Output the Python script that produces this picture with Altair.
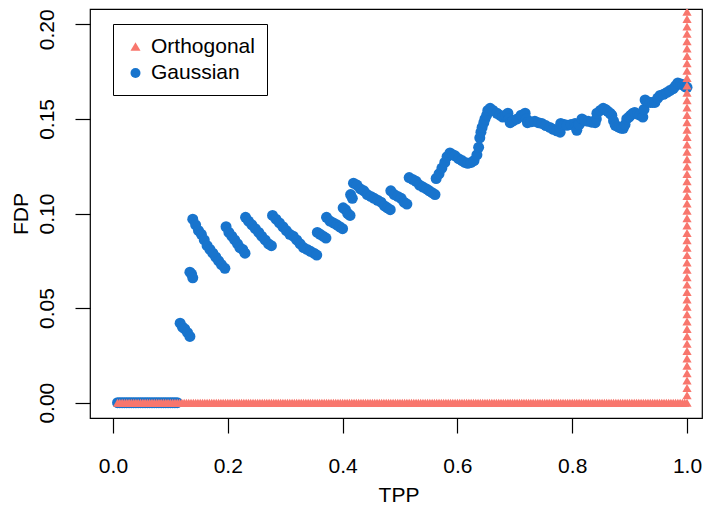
import altair as alt
import pandas as pd

FONT = "Liberation Sans"

x_ticks = [0.0, 0.2, 0.4, 0.6, 0.8, 1.0]
y_ticks = [0.0, 0.05, 0.10, 0.15, 0.20]
series_names = ["Orthogonal", "Gaussian"]
series_colors = ["#F8766D", "#1874CD"]
series_shapes = ["triangle-up", "circle"]

# Orthogonal design: FDP = 0 along the whole TPP range ...
orth_flat_tpp = [
    0.008, 0.012, 0.016, 0.020, 0.024, 0.028, 0.032, 0.036, 0.040, 0.044,
    0.048, 0.052, 0.056, 0.060, 0.064, 0.068, 0.072, 0.076, 0.080, 0.084,
    0.088, 0.092, 0.096, 0.100, 0.104, 0.108, 0.112, 0.116, 0.120, 0.124,
    0.128, 0.132, 0.136, 0.140, 0.144, 0.148, 0.152, 0.156, 0.160, 0.164,
    0.168, 0.172, 0.176, 0.180, 0.184, 0.188, 0.192, 0.196, 0.200, 0.204,
    0.208, 0.212, 0.216, 0.220, 0.224, 0.228, 0.232, 0.236, 0.240, 0.244,
    0.248, 0.252, 0.256, 0.260, 0.264, 0.268, 0.272, 0.276, 0.280, 0.284,
    0.288, 0.292, 0.296, 0.300, 0.304, 0.308, 0.312, 0.316, 0.320, 0.324,
    0.328, 0.332, 0.336, 0.340, 0.344, 0.348, 0.352, 0.356, 0.360, 0.364,
    0.368, 0.372, 0.376, 0.380, 0.384, 0.388, 0.392, 0.396, 0.400, 0.404,
    0.408, 0.412, 0.416, 0.420, 0.424, 0.428, 0.432, 0.436, 0.440, 0.444,
    0.448, 0.452, 0.456, 0.460, 0.464, 0.468, 0.472, 0.476, 0.480, 0.484,
    0.488, 0.492, 0.496, 0.500, 0.504, 0.508, 0.512, 0.516, 0.520, 0.524,
    0.528, 0.532, 0.536, 0.540, 0.544, 0.548, 0.552, 0.556, 0.560, 0.564,
    0.568, 0.572, 0.576, 0.580, 0.584, 0.588, 0.592, 0.596, 0.600, 0.604,
    0.608, 0.612, 0.616, 0.620, 0.624, 0.628, 0.632, 0.636, 0.640, 0.644,
    0.648, 0.652, 0.656, 0.660, 0.664, 0.668, 0.672, 0.676, 0.680, 0.684,
    0.688, 0.692, 0.696, 0.700, 0.704, 0.708, 0.712, 0.716, 0.720, 0.724,
    0.728, 0.732, 0.736, 0.740, 0.744, 0.748, 0.752, 0.756, 0.760, 0.764,
    0.768, 0.772, 0.776, 0.780, 0.784, 0.788, 0.792, 0.796, 0.800, 0.804,
    0.808, 0.812, 0.816, 0.820, 0.824, 0.828, 0.832, 0.836, 0.840, 0.844,
    0.848, 0.852, 0.856, 0.860, 0.864, 0.868, 0.872, 0.876, 0.880, 0.884,
    0.888, 0.892, 0.896, 0.900, 0.904, 0.908, 0.912, 0.916, 0.920, 0.924,
    0.928, 0.932, 0.936, 0.940, 0.944, 0.948, 0.952, 0.956, 0.960, 0.964,
    0.968, 0.972, 0.976, 0.980, 0.984, 0.988, 0.992, 0.996, 1.000,
]
# ... then FDP rising at TPP = 1
orth_full_tpp = 1.0
orth_full_fdp = [
    0.0039, 0.0078, 0.0117, 0.0156, 0.0195, 0.0234, 0.0273, 0.0312, 0.0351,
    0.0390, 0.0429, 0.0468, 0.0507, 0.0546, 0.0585, 0.0624, 0.0663, 0.0702,
    0.0741, 0.0780, 0.0819, 0.0858, 0.0897, 0.0936, 0.0975, 0.1014, 0.1053,
    0.1092, 0.1131, 0.1170, 0.1209, 0.1248, 0.1287, 0.1326, 0.1365, 0.1404,
    0.1443, 0.1482, 0.1521, 0.1560, 0.1599, 0.1638, 0.1677, 0.1716, 0.1755,
    0.1794, 0.1833, 0.1872, 0.1911, 0.1950, 0.1989, 0.2028, 0.2067,
]

# Gaussian design: (TPP, FDP) path
gauss_zero_tpp = [
    0.008, 0.012, 0.016, 0.020, 0.024, 0.028, 0.032, 0.036, 0.040, 0.044,
    0.048, 0.052, 0.056, 0.060, 0.064, 0.068, 0.072, 0.076, 0.080, 0.084,
    0.088, 0.092, 0.096, 0.100, 0.104, 0.108, 0.112,
]
gauss_path = [
    (0.117, 0.042), (0.121, 0.040), (0.125, 0.039), (0.130, 0.037), (0.134, 0.035),
    (0.134, 0.069), (0.137, 0.068), (0.139, 0.066),
    (0.139, 0.097), (0.144, 0.094), (0.149, 0.091), (0.154, 0.089), (0.159, 0.086),
    (0.164, 0.083), (0.169, 0.081), (0.174, 0.079), (0.179, 0.077), (0.184, 0.075),
    (0.189, 0.073), (0.195, 0.071),
    (0.197, 0.093), (0.202, 0.090), (0.207, 0.088), (0.212, 0.086), (0.217, 0.084),
    (0.221, 0.082), (0.226, 0.081), (0.230, 0.079),
    (0.231, 0.098), (0.236, 0.096), (0.242, 0.094), (0.248, 0.092), (0.254, 0.090),
    (0.259, 0.088), (0.265, 0.086), (0.271, 0.084), (0.276, 0.083),
    (0.278, 0.099), (0.284, 0.097), (0.290, 0.095), (0.296, 0.093), (0.302, 0.091),
    (0.308, 0.089), (0.314, 0.088), (0.320, 0.086), (0.326, 0.084), (0.332, 0.082),
    (0.338, 0.081), (0.344, 0.080), (0.350, 0.079), (0.355, 0.078),
    (0.356, 0.090), (0.361, 0.089), (0.366, 0.088), (0.371, 0.087),
    (0.372, 0.098), (0.378, 0.096), (0.384, 0.095), (0.390, 0.094), (0.395, 0.093),
    (0.400, 0.092),
    (0.401, 0.103), (0.405, 0.102), (0.409, 0.100), (0.413, 0.099),
    (0.414, 0.110), (0.417, 0.108),
    (0.419, 0.116), (0.425, 0.115), (0.431, 0.113), (0.437, 0.112), (0.443, 0.110),
    (0.449, 0.109), (0.455, 0.108), (0.461, 0.107), (0.467, 0.106), (0.473, 0.104),
    (0.478, 0.103), (0.483, 0.102),
    (0.484, 0.112), (0.490, 0.110), (0.496, 0.109), (0.502, 0.108), (0.507, 0.106),
    (0.512, 0.105),
    (0.516, 0.119), (0.522, 0.118), (0.528, 0.117), (0.534, 0.115), (0.540, 0.114),
    (0.546, 0.113), (0.551, 0.112), (0.556, 0.111), (0.561, 0.110),
    (0.563, 0.1185), (0.568, 0.121), (0.573, 0.124), (0.578, 0.127), (0.582, 0.130),
    (0.587, 0.132), (0.592, 0.131), (0.596, 0.1305), (0.602, 0.129), (0.608, 0.128),
    (0.613, 0.127), (0.618, 0.1265), (0.624, 0.127), (0.629, 0.128), (0.634, 0.131),
    (0.637, 0.135), (0.639, 0.140), (0.641, 0.143), (0.643, 0.1455), (0.646, 0.148),
    (0.648, 0.150), (0.651, 0.152), (0.653, 0.1545), (0.657, 0.1556),
    (0.662, 0.1545), (0.669, 0.153), (0.674, 0.152), (0.679, 0.151), (0.684, 0.152),
    (0.688, 0.153), (0.690, 0.150), (0.692, 0.148), (0.697, 0.149), (0.704, 0.150),
    (0.711, 0.152), (0.718, 0.153), (0.720, 0.150), (0.722, 0.148), (0.728, 0.1485),
    (0.735, 0.1487), (0.741, 0.148), (0.747, 0.1476), (0.754, 0.1465), (0.761, 0.1455),
    (0.767, 0.1445), (0.773, 0.1437), (0.779, 0.143), (0.779, 0.1455), (0.780, 0.1476),
    (0.786, 0.147), (0.791, 0.1466), (0.798, 0.147), (0.805, 0.1476), (0.807, 0.146),
    (0.808, 0.144), (0.812, 0.147), (0.817, 0.150), (0.822, 0.149), (0.828, 0.1487),
    (0.834, 0.1483), (0.840, 0.148), (0.842, 0.150), (0.843, 0.153), (0.849, 0.1545),
    (0.854, 0.1556), (0.858, 0.155), (0.862, 0.154), (0.866, 0.153), (0.869, 0.152),
    (0.872, 0.149), (0.875, 0.1466), (0.879, 0.146), (0.882, 0.1455), (0.886, 0.145),
    (0.889, 0.145), (0.892, 0.147), (0.895, 0.150), (0.899, 0.151), (0.902, 0.152),
    (0.906, 0.153), (0.909, 0.1534), (0.914, 0.1525), (0.918, 0.152), (0.923, 0.151),
    (0.925, 0.155), (0.927, 0.160), (0.932, 0.159), (0.936, 0.1587), (0.940, 0.1587),
    (0.944, 0.1587), (0.949, 0.161), (0.953, 0.1624), (0.959, 0.163), (0.965, 0.164),
    (0.970, 0.165), (0.976, 0.166), (0.980, 0.1675), (0.984, 0.169), (0.989, 0.1685),
    (0.993, 0.168), (0.997, 0.167), (1.000, 0.1667),
]

gauss = pd.concat([
    pd.DataFrame({"tpp": gauss_zero_tpp, "fdp": 0.0}),
    pd.DataFrame(gauss_path, columns=["tpp", "fdp"]),
], ignore_index=True)
gauss["series"] = "Gaussian"

orth = pd.concat([
    pd.DataFrame({"tpp": orth_flat_tpp, "fdp": 0.0}),
    pd.DataFrame({"tpp": orth_full_tpp, "fdp": orth_full_fdp}),
], ignore_index=True)
orth["series"] = "Orthogonal"

xscale = alt.Scale(domain=[-0.040, 1.0261], nice=False, zero=False)
yscale = alt.Scale(domain=[-0.0081, 0.2081], nice=False, zero=False)

xaxis = alt.Axis(
    values=x_ticks, format=".1f", title="TPP", grid=False, domain=False,
    tickSize=15, tickColor="black", tickWidth=1.2,
    labelFont=FONT, labelFontSize=21, labelColor="black", labelPadding=39,
    labelBaseline="alphabetic", labelFlush=False, labelOverlap=False,
    titleFont=FONT, titleFontSize=21, titleFontWeight="normal", titleColor="black",
    titleBaseline="alphabetic", titleX=308.5, titleY=83,
)
yaxis = alt.Axis(
    values=y_ticks, format=".2f", title="FDP", grid=False, domain=False,
    tickSize=15, tickColor="black", tickWidth=1.2,
    labelFont=FONT, labelFontSize=21, labelColor="black", labelPadding=22,
    labelAngle=270, labelAlign="center", labelBaseline="alphabetic",
    labelFlush=False, labelOverlap=False,
    labelOffset={"condition": {"test": "datum.value > 0.19", "value": 5}, "value": 0},
    titleFont=FONT, titleFontSize=21, titleFontWeight="normal", titleColor="black",
    titleAngle=270, titleAlign="center", titleBaseline="alphabetic",
    titleX=-63, titleY=204.5,
)

legend = alt.Legend(
    title=None, orient="none", legendX=23, legendY=15,
    strokeColor="black", fillColor="white", padding=12, cornerRadius=0,
    labelFont=FONT, labelFontSize=21, labelColor="black", labelOffset=5,
    rowPadding=4.5, symbolSize=100, symbolStrokeWidth=0, symbolOpacity=1,
)
color = alt.Color("series:N", scale=alt.Scale(domain=series_names, range=series_colors),
                  sort=series_names, legend=legend)
shape = alt.Shape("series:N", scale=alt.Scale(domain=series_names, range=series_shapes),
                  sort=series_names, legend=legend)

x = alt.X("tpp:Q", scale=xscale, axis=xaxis)
y = alt.Y("fdp:Q", scale=yscale, axis=yaxis)

g_layer = alt.Chart(gauss).mark_point(
    filled=True, size=121, opacity=1, strokeWidth=0, clip=True
).encode(x=x, y=y, color=color, shape=shape)

o_layer = alt.Chart(orth).mark_point(
    filled=True, size=85, opacity=1, strokeWidth=0, clip=True
).encode(x=x, y=y, color=color, shape=shape)

chart = alt.layer(g_layer, o_layer).properties(
    width=612, height=409,
    autosize=alt.AutoSizeParams(type="none"),
    padding={"left": 82, "top": 1, "right": 1, "bottom": 87},
    background="white",
).configure_view(stroke="black", strokeWidth=1.2)

chart.save("out.html", embed_options={"renderer": "svg", "actions": False})
